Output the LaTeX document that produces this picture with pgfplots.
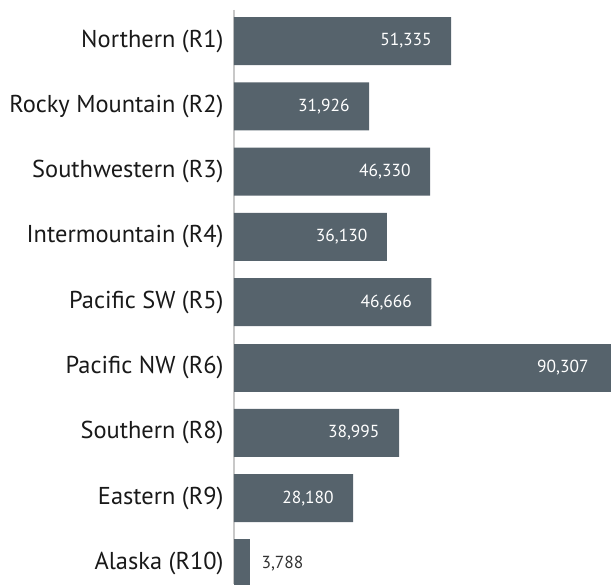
\documentclass[border=0pt]{standalone}
\usepackage{pgfplots}
\pgfplotsset{compat=1.18}
\usepackage{fontspec}
\setmainfont{PT Sans}
\definecolor{barc}{HTML}{56636C}
\definecolor{axc}{HTML}{C8C8C8}
\begin{document}
\begin{tikzpicture}
\begin{axis}[name=ax, scale only axis, width=402bp, height=574.3bp,
  xmin=0, xmax=95000, ymin=-0.475, ymax=8.32, y dir=reverse,
  axis x line=none, axis y line*=left,
  y axis line style={axc, line width=2.4bp},
  ytick={0,...,8}, major tick length=0pt,
  yticklabels={Northern (R1), Rocky Mountain (R2), Southwestern (R3), Intermountain (R4), Pacific SW (R5), Pacific NW (R6), Southern (R8), Eastern (R9), Alaska (R10)},
  yticklabel style={font=\fontsize{24.5}{24.5}\selectfont, text=black!90, xshift=-7bp},
  xbar, bar width=48bp, bar shift=0pt,
  /pgf/number format/assume math mode=true,
  /pgf/number format/.cd, 1000 sep={,}, /pgfplots/.cd,
  nodes near coords,
  nodes near coords style={font=\fontsize{17.5}{17.5}\selectfont},
]
\addplot[fill=barc, draw=none, every node near coord/.append style={anchor=east, xshift=-16bp, text=white}]
  coordinates {(51335,0) (31926,1) (46330,2) (36130,3) (46666,4) (38995,6) (28180,7)};
\addplot[fill=barc, draw=none, every node near coord/.append style={anchor=east, xshift=-24bp, text=white}]
  coordinates {(90307,5)};
\addplot[fill=barc, draw=none, every node near coord/.append style={anchor=west, xshift=8bp, text=black!80}]
  coordinates {(3788,8)};
\end{axis}
\pgfresetboundingbox
\path ([xshift=-234bp]ax.south west) rectangle ([xshift=377bp, yshift=10bp]ax.north west);
\end{tikzpicture}
\end{document}
